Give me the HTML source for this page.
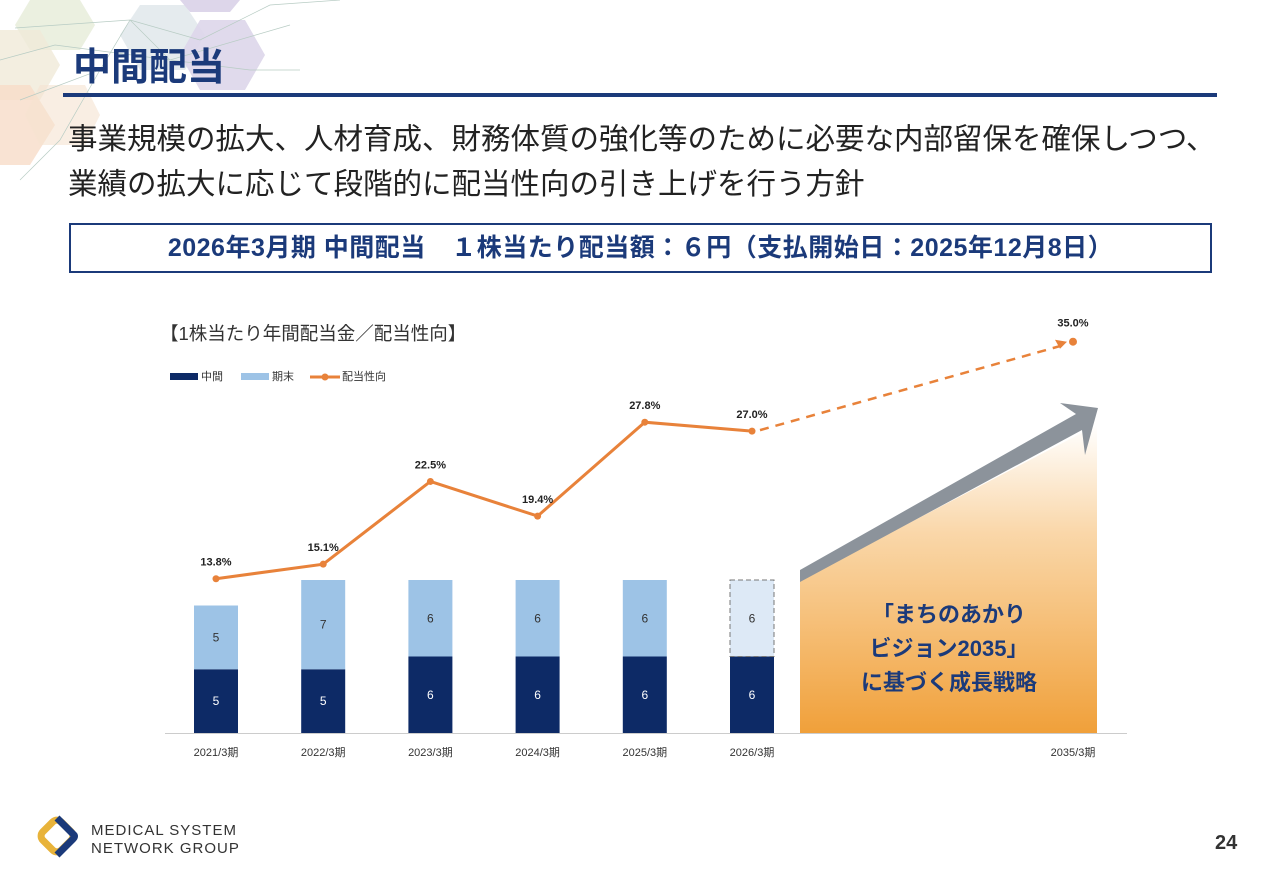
<!DOCTYPE html>
<html><head><meta charset="utf-8">
<style>
body{margin:0;width:1280px;height:886px;background:#fff;overflow:hidden;position:relative;font-family:"Liberation Sans","Noto Sans CJK JP",sans-serif}
.abs{position:absolute}
</style></head>
<body>
<svg class="abs" style="left:0;top:0" width="420" height="200">
<polygon points="30,0 80,0 95,25 80,50 30,50 15,25" fill="#e6ecd8" opacity="0.8"/>
<polygon points="140,5 185,5 205,35 185,70 140,70 120,35" fill="#dfe6ea" opacity="0.8"/>
<polygon points="200,20 245,20 265,55 245,90 200,90 180,55" fill="#ddd6ea" opacity="0.9"/>
<polygon points="180,0 240,0 230,12 190,12" fill="#ddd6ea"/>
<polygon points="0,30 40,30 60,65 40,100 0,100" fill="#f0ead8" opacity="0.8"/>
<polygon points="0,85 30,85 55,125 30,165 0,165" fill="#f8dcc8" opacity="0.8"/>
<polygon points="40,85 85,85 100,115 85,145 40,145 25,115" fill="#f5e2d0" opacity="0.6"/>
<g stroke="#b8ccc4" stroke-width="0.7" fill="none"><path d="M15,28 L130,20 L200,40 L270,5 L340,0 M130,20 L170,60 L290,25 M55,45 L170,60 L250,70 L300,70 M20,100 L100,70 L130,20 M0,60 L55,45 M100,70 L60,140 L20,180"/></g>
</svg>
<div class="abs" style="left:73px;top:36px;font-size:38px;font-weight:bold;color:#1b3a7a">中間配当</div>
<div class="abs" style="left:63px;top:93px;width:1154px;height:4px;background:#1b3a7a"></div>
<div class="abs" style="left:68px;top:117px;font-size:29.5px;line-height:45px;color:#222;white-space:nowrap">事業規模の拡大、人材育成、財務体質の強化等のために必要な内部留保を確保しつつ、<br>業績の拡大に応じて段階的に配当性向の引き上げを行う方針</div>
<div class="abs" style="left:69px;top:223px;width:1139px;height:46px;border:2px solid #1b3a7a;box-sizing:content-box;text-align:center;line-height:46px;font-size:25px;letter-spacing:0.5px;font-weight:bold;color:#1b3a7a;white-space:nowrap">2026年3月期 中間配当　１株当たり配当額：６円（支払開始日：2025年12月8日）</div>
<div class="abs" style="left:160px;top:320px;font-size:18.5px;color:#333">【1株当たり年間配当金／配当性向】</div>
<svg class="abs" style="left:0;top:0" width="1280" height="886" id="chart">
<defs>
<linearGradient id="og" x1="0" y1="0" x2="0" y2="1"><stop offset="0" stop-color="#f3a640" stop-opacity="0"/><stop offset="0.35" stop-color="#f3a640" stop-opacity="0.45"/><stop offset="1" stop-color="#f0a03a"/></linearGradient>
</defs>
<g>
<rect x="170" y="373" width="28" height="7" fill="#0d2a66"/><text x="201" y="380" font-size="11" fill="#333">中間</text>
<rect x="241" y="373" width="28" height="7" fill="#9dc3e6"/><text x="272" y="380" font-size="11" fill="#333">期末</text>
<line x1="310" y1="377" x2="340" y2="377" stroke="#e8823a" stroke-width="3"/><circle cx="325" cy="377" r="3.5" fill="#e8823a"/><text x="342" y="380" font-size="11" fill="#333">配当性向</text>
</g>
<polygon points="800,580 1097,425 1097,733 800,733" fill="url(#og)"/>
<polygon points="800,570 1076,414 1060,403 1098,408 1085,455 1082,430 800,582" fill="#8c939b"/>
<text x="949" y="622" text-anchor="middle" font-size="22" font-weight="bold" fill="#1b3a7a">「まちのあかり</text>
<text x="949" y="656" text-anchor="middle" font-size="22" font-weight="bold" fill="#1b3a7a">ビジョン2035」</text>
<text x="949" y="690" text-anchor="middle" font-size="22" font-weight="bold" fill="#1b3a7a">に基づく成長戦略</text>
<line x1="165" y1="733.5" x2="1127" y2="733.5" stroke="#ccc" stroke-width="1"/>
<g id="marks"></g>
</svg>
<svg class="abs" style="left:35px;top:815px" width="50" height="46">
<rect x="9" y="8" width="26" height="26" rx="6" transform="rotate(45 22 21)" fill="none" stroke="#e8b33a" stroke-width="7"/>
<path d="M22,3 L38,19 Q41,21 38,24 L22,40" fill="none" stroke="#1b3a7a" stroke-width="7"/>
</svg>
<div class="abs" style="left:91px;top:822px;font-size:15px;line-height:18px;letter-spacing:1px;color:#333">MEDICAL SYSTEM<br>NETWORK GROUP</div>
<div class="abs" style="left:1215px;top:832px;font-size:20px;font-weight:bold;color:#333">24</div>
<script>
const categories=["2021/3期","2022/3期","2023/3期","2024/3期","2025/3期","2026/3期"];
const interim=[5,5,6,6,6,6];
const yearEnd=[5,7,6,6,6,6];
const payout=[13.8,15.1,22.5,19.4,27.8,27.0];
const targetLabel="2035/3期";
const targetPayout=35.0;
const NS="http://www.w3.org/2000/svg";
const g=document.getElementById("marks");
const base=733;
function xs(i){return 216+i*107.2;}
function yb(v){return base-v*12.75;}
function yp(v){return base-v*11.18;}
const xTarget=1073;
function mk(t,a){const e=document.createElementNS(NS,t);for(const k in a)e.setAttribute(k,a[k]);g.appendChild(e);return e;}
categories.forEach((c,i)=>{
 const x=xs(i),w=44,last=i===categories.length-1;
 const r1=mk("rect",{x:x-w/2,y:yb(interim[i]),width:w,height:base-yb(interim[i]),fill:"#0d2a66"});
 
 
 const top=yb(interim[i]+yearEnd[i]);
 const r2=mk("rect",{x:x-w/2,y:top,width:w,height:yb(interim[i])-top,fill:last?"#dde9f6":"#9dc3e6",stroke:last?"#777":"none","stroke-dasharray":"5,3"});
 
 
 const t1=mk("text",{x:x,y:(yb(interim[i])+base)/2+4,"text-anchor":"middle","font-size":12,fill:"#fff"});t1.textContent=interim[i];
 
 
 const t2=mk("text",{x:x,y:(top+yb(interim[i]))/2+4,"text-anchor":"middle","font-size":12,fill:"#333"});t2.textContent=yearEnd[i];
 
 
 const xl=mk("text",{x:x,y:756,"text-anchor":"middle","font-size":11,fill:"#333"});xl.textContent=c;
 
 
});
const pts=payout.map((v,i)=>xs(i)+","+yp(v)).join(" ");
const pl=mk("polyline",{points:pts,fill:"none",stroke:"#e8823a","stroke-width":3});


const li=payout.length-1;
const dl=mk("line",{x1:xs(li)+8,y1:yp(payout[li])-1,x2:xTarget-8,y2:yp(targetPayout)+3,stroke:"#e8823a","stroke-width":2.5,"stroke-dasharray":"9,7"});


mk("path",{d:`M${xTarget-6},${yp(targetPayout)} l-12,-2 l5,9 z`,fill:"#e8823a"});
payout.forEach((v,i)=>{
 const c=mk("circle",{cx:xs(i),cy:yp(v),r:3.5,fill:"#e8823a"});
 
 
 const t=mk("text",{x:xs(i),y:yp(v)-13,"text-anchor":"middle","font-size":11,"font-weight":"bold",fill:"#222"});t.textContent=v.toFixed(1)+"%";
 
 
});
const tc=mk("circle",{cx:xTarget,cy:yp(targetPayout),r:4,fill:"#e8823a"});


const tt=mk("text",{x:xTarget,y:yp(targetPayout)-15,"text-anchor":"middle","font-size":11,"font-weight":"bold",fill:"#222"});tt.textContent=targetPayout.toFixed(1)+"%";


const tx=mk("text",{x:xTarget,y:756,"text-anchor":"middle","font-size":11,fill:"#333"});tx.textContent=targetLabel;


</script>
</body></html>
